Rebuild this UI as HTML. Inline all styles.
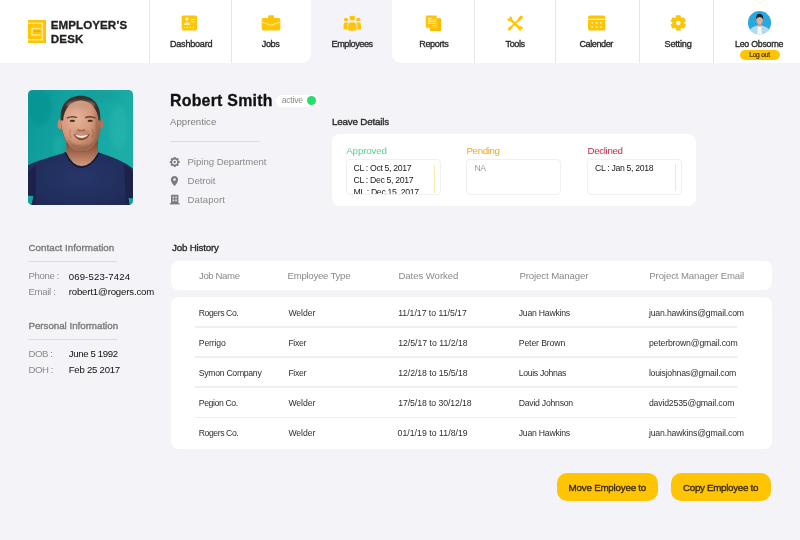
<!DOCTYPE html>
<html>
<head>
<meta charset="utf-8">
<title>Employer's Desk</title>
<style>
html,body{margin:0;padding:0;}
body{width:800px;height:540px;overflow:hidden;background:#f4f3f7;font-family:"Liberation Sans",sans-serif;position:relative;-webkit-font-smoothing:antialiased;}
#txt{position:absolute;left:0;top:0;width:800px;height:540px;will-change:transform;}
.abs{position:absolute;}
.t{position:absolute;white-space:pre;line-height:1;font-family:"Liberation Sans",sans-serif;}
.hdrL{left:0;top:0;width:311px;height:63px;background:#fff;border-bottom-right-radius:9px;}
.hdrR{left:392px;top:0;width:408px;height:63px;background:#fff;border-bottom-left-radius:9px;}
.tabact{left:311px;top:0;width:81px;height:63px;background:#f4f3f9;}
.vd{position:absolute;top:0;width:1px;height:63px;background:#e6e6e9;}
.card{position:absolute;background:#fff;border-radius:8px;}
.box{position:absolute;border:1px solid #f0f0f3;border-radius:4px;background:#fff;box-sizing:border-box;overflow:hidden;}
.hl{position:absolute;height:1px;background:#dcdce0;}
.sep{position:absolute;height:1.4px;background:#efeff3;left:194.5px;width:542px;}
.btn{position:absolute;background:#ffc505;border-radius:10px;}
.sb{position:absolute;width:1px;background:#f8eab0;}
</style>
</head>
<body>
<!-- header -->
<div class="abs tabact"></div>
<div class="abs hdrL"></div>
<div class="abs hdrR"></div>
<div class="vd" style="left:149px"></div>
<div class="vd" style="left:230.5px"></div>
<div class="vd" style="left:473.7px"></div>
<div class="vd" style="left:555px"></div>
<div class="vd" style="left:638.7px"></div>
<div class="vd" style="left:713px"></div>

<!-- logo -->
<svg class="abs" style="left:28px;top:20px" width="18.2" height="23" viewBox="0 0 18.2 23">
<rect x="0" y="0" width="18.2" height="23" fill="#ffc505"/>
</svg>

<svg class="abs" style="left:0;top:0" width="800" height="64" viewBox="0 0 800 64">
<g fill="#fec406">
<!-- dashboard -->
<rect x="181.6" y="15.4" width="15.4" height="15" rx="1.6"/>
<g fill="#fff3b5">
<circle cx="186.9" cy="18.9" r="1.75"/>
<path d="M183.9 25.1 Q183.9 22.2 187 22.2 Q190.2 22.2 190.2 25.1 Z"/>
<rect x="191.3" y="18.9" width="3.6" height="1"/>
<rect x="191.3" y="21.4" width="3.6" height="1"/>
<circle cx="184.4" cy="27.4" r=".7"/><circle cx="187.4" cy="27.4" r=".7"/><circle cx="190.5" cy="27.4" r=".7"/><circle cx="193.5" cy="27.4" r=".7"/>
</g>
<!-- jobs -->
<path d="M268.1 18.2 V16.6 Q268.1 15.2 269.5 15.2 H272.7 Q274.1 15.2 274.1 16.6 V18.2 Z"/>
<rect x="261.7" y="17.9" width="18.6" height="12.5" rx="1.6"/>
<path d="M261.7 22 L271 25.3 L280.3 22" fill="none" stroke="#ffee8c" stroke-width="1"/>
<!-- employees -->
<rect x="344.1" y="17.9" width="3.9" height="3.4" rx="1"/>
<path d="M343.6 29.5 V24.6 Q343.6 22.6 345.6 22.6 H348.4 V29.5 Z"/>
<rect x="356.3" y="17.9" width="3.9" height="3.4" rx="1"/>
<path d="M361 29.5 V24.6 Q361 22.6 359 22.6 H356.2 V29.5 Z"/>
<rect x="349.3" y="15.4" width="6" height="5.4" rx="1.5" stroke="#f4f3f9" stroke-width=".8"/>
<path d="M347.8 31 V25.2 Q347.8 22 351 22 H353.6 Q356.9 22 356.9 25.2 V31 Z" stroke="#f4f3f9" stroke-width=".8"/>
<!-- reports -->
<rect x="429.8" y="18.2" width="11.4" height="12.7" rx="1" fill="#f6bd06"/>
<rect x="425.8" y="15.4" width="11" height="12.5" rx="1" stroke="#ffe36b" stroke-width=".5"/>
<g fill="#fff0a8">
<rect x="428" y="17.9" width="3.4" height=".9"/>
<rect x="428" y="19.6" width="7.4" height=".9"/>
<rect x="428" y="21.3" width="7.4" height=".9"/>
<rect x="428" y="23" width="7.4" height=".9"/>
<rect x="432.4" y="25.1" width="3" height=".9"/>
</g>
<!-- tools -->
<g transform="translate(515 23.3) scale(.9) translate(-515 -23.3)">
<g stroke="#fec406" stroke-linecap="round" fill="none">
<path d="M510 19.2 L520.6 29.2" stroke-width="2.7"/>
<path d="M509.2 29 L520 18.8" stroke-width="2.1"/>
<path d="M519.9 18.6 L522 16.6" stroke-width="3.6"/>
<path d="M508.5 29.9 L510.1 28.3" stroke-width="3"/>
</g>
<circle cx="509.3" cy="18.4" r="2.7"/>
<circle cx="521.2" cy="29.1" r="2.6"/>
<circle cx="507.7" cy="16.7" r="1.45" fill="#fff"/>
<circle cx="522.8" cy="30.7" r="1.4" fill="#fff"/>
</g>
<!-- calendar -->
<path d="M588 17 Q588 15.4 589.6 15.4 H603.6 Q605.2 15.4 605.2 17 V18.7 H588 Z"/>
<path d="M588 19.8 H605.2 V28.8 Q605.2 30.4 603.6 30.4 H589.6 Q588 30.4 588 28.8 Z"/>
<g fill="#fff3b5">
<circle cx="592.3" cy="22.9" r=".95"/><circle cx="596.6" cy="22.9" r=".95"/><circle cx="600.7" cy="22.9" r=".95"/>
<circle cx="592.3" cy="27.1" r=".95"/><circle cx="596.6" cy="27.1" r=".95"/><circle cx="600.7" cy="27.1" r=".95"/>
</g>
<!-- setting gear -->
<g transform="translate(678.3 22.9)">
<circle r="5.9"/>
<g id="tooth"><rect x="-2.5" y="-7.7" width="5" height="4.4" rx=".9"/></g>
<use href="#tooth" transform="rotate(60)"/><use href="#tooth" transform="rotate(120)"/><use href="#tooth" transform="rotate(180)"/><use href="#tooth" transform="rotate(240)"/><use href="#tooth" transform="rotate(300)"/>
<circle r="2.25" fill="#fff"/>
</g>
</g>
<!-- logo marks -->
<g fill="none" stroke="#ffe88a" stroke-width="1.5">
<path d="M28 23.2 H42.3 V39.8 H28"/>
<path d="M40.6 28.5 H32 V34.9 H40.6"/>
</g>
<path d="M33.8 31.2 H40.6" stroke="#e9aa00" stroke-width="1.3" fill="none"/>
<!-- avatar -->
<defs><clipPath id="avc"><circle cx="759.5" cy="22.7" r="11.6"/></clipPath>
<filter id="b1" x="-20%" y="-20%" width="140%" height="140%"><feGaussianBlur stdDeviation=".45"/></filter></defs>
<g clip-path="url(#avc)">
<rect x="747" y="10" width="26" height="26" fill="#2aa7df"/>
<g filter="url(#b1)">
<path d="M748 36 Q748.6 27.8 755 26.2 L759.5 24.8 L764 26.2 Q770.4 27.8 771.4 36 Z" fill="#b7d9ed"/>
<path d="M757.8 25.8 L761.2 25.8 L762 36 L757.2 36 Z" fill="#f4f8fb"/>
<rect x="757.9" y="22" width="3.4" height="4.4" fill="#d3a084"/>
<ellipse cx="759.6" cy="20" rx="3.15" ry="3.9" fill="#e2b295"/>
<path d="M756.2 19.4 Q755.6 13.6 759.7 13.7 Q763.8 13.8 763 19.4 Q762.4 16.9 759.7 16.9 Q757 16.9 756.2 19.4 Z" fill="#23262c"/>
</g>
</g>
</svg>
<!-- small gray icons -->
<svg class="abs" style="left:166px;top:154px" width="18" height="54" viewBox="166 154 18 54">
<g fill="#7c7c7c">
<g transform="translate(174.7 162)">
<circle r="3.9"/>
<g id="gt"><rect x="-1.1" y="-5" width="2.2" height="2" rx=".4"/></g>
<use href="#gt" transform="rotate(45)"/><use href="#gt" transform="rotate(90)"/><use href="#gt" transform="rotate(135)"/><use href="#gt" transform="rotate(180)"/><use href="#gt" transform="rotate(225)"/><use href="#gt" transform="rotate(270)"/><use href="#gt" transform="rotate(315)"/>
<circle r="2.5" fill="#f4f3f7"/>
<circle r="1.2"/>
</g>
<path d="M174.5 176.1 C172.4 176.1 170.9 177.7 170.9 179.7 C170.9 182.4 174.5 186 174.5 186 C174.5 186 178.1 182.4 178.1 179.7 C178.1 177.7 176.6 176.1 174.5 176.1 Z"/>
<circle cx="174.5" cy="179.6" r="1.25" fill="#f4f3f7"/>
<rect x="171" y="194.8" width="7.4" height="9.2" rx=".6"/>
<rect x="169.8" y="203.2" width="9.8" height="1.2"/>
<g fill="#d9d9de"><rect x="172.5" y="196.5" width="1.7" height="1.8"/><rect x="175.2" y="196.5" width="1.7" height="1.8"/><rect x="172.5" y="199.5" width="1.7" height="1.8"/><rect x="175.2" y="199.5" width="1.7" height="1.8"/></g>
</g>
</svg>


<!-- logout pill -->
<div class="abs" style="left:740px;top:50px;width:39.5px;height:10px;border-radius:5px;background:#ffc505"></div>

<svg class="abs" style="left:28px;top:90.4px;border-radius:4.5px" width="105" height="114.6" viewBox="28 90.4 105 114.6">
<defs>
<linearGradient id="bgG" x1="0" y1="0" x2="1" y2="0.35">
<stop offset="0" stop-color="#0c9896"/><stop offset=".45" stop-color="#14a4a0"/><stop offset="1" stop-color="#1cada8"/>
</linearGradient>
<radialGradient id="faceG" cx=".40" cy=".40" r=".66">
<stop offset="0" stop-color="#e6b39a"/><stop offset=".55" stop-color="#d69a7e"/><stop offset="1" stop-color="#ab7054"/>
</radialGradient>
<linearGradient id="neckG" x1="0" y1="0" x2="0" y2="1">
<stop offset="0" stop-color="#6f402d"/><stop offset=".5" stop-color="#a1654a"/><stop offset="1" stop-color="#d39c80"/>
</linearGradient>
<clipPath id="skinC"><rect x="55" y="121" width="52" height="40"/><ellipse cx="80.8" cy="121.5" rx="17.6" ry="20.6"/></clipPath>
<radialGradient id="shirtG" cx=".5" cy=".45" r=".6"><stop offset="0" stop-color="#27366a"/><stop offset="1" stop-color="#1f2b57"/></radialGradient>
<filter id="pb" x="-10%" y="-10%" width="120%" height="120%"><feGaussianBlur stdDeviation=".55"/></filter>
<filter id="pb2" x="-20%" y="-20%" width="140%" height="140%"><feGaussianBlur stdDeviation="2.2"/></filter>
<filter id="pb3" x="-20%" y="-20%" width="140%" height="140%"><feGaussianBlur stdDeviation=".55"/></filter>
<filter id="pb5" x="-20%" y="-20%" width="140%" height="140%"><feGaussianBlur stdDeviation=".8"/></filter>
<filter id="pb4" x="-20%" y="-20%" width="140%" height="140%"><feGaussianBlur stdDeviation="1.3"/></filter>
</defs>
<rect x="28" y="90.4" width="105" height="114.6" fill="url(#bgG)"/>
<g filter="url(#pb2)">
<ellipse cx="119" cy="128" rx="9" ry="22" fill="#2bb7b0" opacity=".5"/>
<ellipse cx="40" cy="108" rx="12" ry="18" fill="#0a8f8e" opacity=".45"/>
<ellipse cx="58" cy="146" rx="5" ry="10" fill="#2bb7b0" opacity=".35"/>
<ellipse cx="100" cy="97" rx="20" ry="5" fill="#0d9796" opacity=".5"/>
</g>
<g filter="url(#pb)">
<!-- shirt -->
<path d="M26 166.8 C38 160 52 157.5 66 152.6 H98 C112 157.5 124 161 135 170.6 V207 H26 Z" fill="url(#shirtG)"/>
<path d="M26 178 Q29 170 36 166 L36 207 H26 Z" fill="#1a2448"/>
<path d="M124 165 Q131 169 135 176 V207 H126 Z" fill="#1a2448"/>
<path d="M26 196 L33.5 196.5 L31 207 H26 Z" fill="#16a29f"/>
<path d="M135 199 L128.5 198.5 L130 207 H135 Z" fill="#16a29f"/>
<!-- neck -->
<path d="M66.3 138 V153 Q72 166.4 81.6 166.4 Q91 166.4 98 153.6 V138 Z" fill="url(#neckG)"/>
<path d="M65 152.6 Q72 167.6 81.6 167.6 Q91 167.6 99 153.2" fill="none" stroke="#141c37" stroke-width="1.5"/>
<!-- ears -->
<ellipse cx="60" cy="124.6" rx="2.3" ry="4.8" fill="#c88b6f"/>
<ellipse cx="101.4" cy="124.6" rx="2" ry="4.8" fill="#b0745a"/>
<!-- head: hair base then skin clipped -->
<path d="M80.6 96.2 C93 96.2 100.4 105 100.3 118 C100.2 125 99.8 130 98.8 135.5 C97.8 141 96 144.6 92.8 147.8 C89.6 150.9 85.5 152 81.8 152 C78 152 74 150.9 70.8 147.8 C67.6 144.6 65 141 63.6 135.5 C62 130 60.7 125 60.6 118 C60.5 105 68 96.2 80.6 96.2 Z" fill="#372e2a"/>
<g clip-path="url(#skinC)"><path d="M80.6 96.2 C93 96.2 100.4 105 100.3 118 C100.2 125 99.8 130 98.8 135.5 C97.8 141 96 144.6 92.8 147.8 C89.6 150.9 85.5 152 81.8 152 C78 152 74 150.9 70.8 147.8 C67.6 144.6 65 141 63.6 135.5 C62 130 60.7 125 60.6 118 C60.5 105 68 96.2 80.6 96.2 Z" fill="url(#faceG)"/></g>
</g>
<g filter="url(#pb5)">
<ellipse cx="80.8" cy="105.5" rx="14" ry="4.2" fill="#c99a82" opacity=".75" filter="url(#pb4)"/>
</g>
<g filter="url(#pb4)">
<!-- beard -->
<path d="M66 138 C68.5 146.5 74 152 81.8 152 C89.6 152 94.8 146.5 97 138 C94.4 143.2 89.4 146 81.8 146 C74.4 146 69 143.2 66 138 Z" fill="#8a5a42" opacity=".6"/>
<path d="M75 131.6 Q81.6 130 88.6 131.6 Q89.6 133.6 88.6 134.2 Q81.6 132.6 75 134.2 Q74 133.6 75 131.6Z" fill="#9a6148" opacity=".55"/>
<!-- right side shadow -->
<path d="M96 112 Q101 122 99 136 Q97 144 93 148 Q96 136 96 112 Z" fill="#8a553c" opacity=".5"/>
</g>
<g filter="url(#pb3)">
<path d="M66.8 118.6 Q71.6 116 77.2 118" stroke="#6b4a3a" stroke-width="1.4" fill="none"/>
<path d="M85.2 118 Q90.8 116 95.4 118.6" stroke="#5f4032" stroke-width="1.4" fill="none"/>
<ellipse cx="72.4" cy="121.3" rx="2.7" ry="1.05" fill="#463128"/>
<ellipse cx="90.2" cy="121.3" rx="2.7" ry="1.05" fill="#463128"/>
<path d="M77.4 130 Q81.2 131.8 85 130" stroke="#a0614a" stroke-width="1.2" fill="none"/>
<path d="M73.4 134.6 Q81.6 136.2 90 134.4 Q87 140.6 81.8 140.6 Q76.4 140.6 73.4 134.6 Z" fill="#8e4a3d"/>
<path d="M75 135.2 Q81.8 136.6 88.4 135 Q85.8 138.4 81.8 138.4 Q77.6 138.4 75 135.2 Z" fill="#f3e9e2"/>
<path d="M70.4 129.6 Q68.8 134 71 138.6" stroke="#b27759" stroke-width=".9" fill="none"/>
<path d="M92.6 129.6 Q94.2 134 92.2 138.6" stroke="#9c634a" stroke-width=".9" fill="none"/>
</g>
</svg>


<!-- active pill -->
<div class="abs" style="left:275.7px;top:94.5px;width:43px;height:12px;border-radius:6px;background:#fff"></div>
<div class="abs" style="left:306.7px;top:96px;width:9px;height:9px;border-radius:50%;background:#22e06b"></div>
<div class="hl" style="left:170px;top:140.5px;width:90px"></div>

<!-- leave details -->
<div class="card" style="left:332px;top:133.7px;width:364px;height:72px"></div>
<div class="box" style="left:346.2px;top:158.7px;width:95px;height:36px"></div>
<div class="box" style="left:466.4px;top:158.7px;width:95px;height:36px"></div>
<div class="box" style="left:587.4px;top:158.7px;width:95px;height:36px"></div>
<div class="sb" style="left:434.3px;top:164.5px;height:28px"></div>
<div class="sb" style="left:675px;top:164px;height:27px"></div>
<!-- clipped approved list -->
<div class="abs" style="left:347.2px;top:159.7px;width:85px;height:34px;overflow:hidden;will-change:transform">
<span class="t" style="left:6.6px;top:4.0px;font-size:8.7px;color:#222;letter-spacing:-0.33px">CL : Oct 5, 2017</span>
<span class="t" style="left:6.6px;top:16.2px;font-size:8.7px;color:#222;letter-spacing:-0.33px">CL : Dec 5, 2017</span>
<span class="t" style="left:6.6px;top:28.4px;font-size:8.7px;color:#222;letter-spacing:-0.33px">ML : Dec 15, 2017</span>

</div>

<!-- contact lines -->
<div class="hl" style="left:28.4px;top:260.6px;width:89px"></div>
<div class="hl" style="left:28.4px;top:338.6px;width:89px"></div>

<!-- job history -->
<div class="card" style="left:170.8px;top:261.3px;width:601.5px;height:28.6px"></div>
<div class="card" style="left:170.8px;top:297.4px;width:601.5px;height:152px"></div>
<div class="sep" style="top:326.3px"></div>
<div class="sep" style="top:356.3px"></div>
<div class="sep" style="top:386.3px"></div>
<div class="sep" style="top:416.8px"></div>

<!-- buttons -->
<div class="btn" style="left:557px;top:472.7px;width:100.6px;height:28.6px"></div>
<div class="btn" style="left:671px;top:472.7px;width:99.7px;height:28.6px"></div>

<div id="txt">
<span class="t" style="left:50.80px;top:19.20px;font-size:11.6px;font-weight:700;color:#222;letter-spacing:0.041px;-webkit-text-stroke:0.3px #222;">EMPLOYER’S</span>
<span class="t" style="left:50.80px;top:33.20px;font-size:11.6px;font-weight:700;color:#222;letter-spacing:0.160px;-webkit-text-stroke:0.3px #222;">DESK</span>
<span class="t" style="left:170.00px;top:40.20px;font-size:9.1px;font-weight:400;color:#2b2b2b;letter-spacing:-0.250px;-webkit-text-stroke:0.35px #2b2b2b;">Dashboard</span>
<span class="t" style="left:261.87px;top:40.20px;font-size:9.1px;font-weight:400;color:#2b2b2b;letter-spacing:-0.420px;-webkit-text-stroke:0.35px #2b2b2b;">Jobs</span>
<span class="t" style="left:331.53px;top:40.20px;font-size:9.1px;font-weight:400;color:#2b2b2b;letter-spacing:-0.420px;-webkit-text-stroke:0.35px #2b2b2b;">Employees</span>
<span class="t" style="left:419.25px;top:40.20px;font-size:9.1px;font-weight:400;color:#2b2b2b;letter-spacing:-0.391px;-webkit-text-stroke:0.35px #2b2b2b;">Reports</span>
<span class="t" style="left:505.60px;top:40.20px;font-size:9.1px;font-weight:400;color:#2b2b2b;letter-spacing:-0.420px;-webkit-text-stroke:0.35px #2b2b2b;">Tools</span>
<span class="t" style="left:579.39px;top:40.20px;font-size:9.1px;font-weight:400;color:#2b2b2b;letter-spacing:-0.420px;-webkit-text-stroke:0.35px #2b2b2b;">Calender</span>
<span class="t" style="left:664.50px;top:40.20px;font-size:9.1px;font-weight:400;color:#2b2b2b;letter-spacing:-0.177px;-webkit-text-stroke:0.35px #2b2b2b;">Setting</span>
<span class="t" style="left:735.00px;top:40.20px;font-size:8.75px;font-weight:400;color:#2b2b2b;letter-spacing:-0.219px;-webkit-text-stroke:0.35px #2b2b2b;">Leo Obsorne</span>
<span class="t" style="left:749.20px;top:52.20px;font-size:6.6px;font-weight:400;color:#3a2c05;letter-spacing:-0.200px;-webkit-text-stroke:0.2px #3a2c05;">Log out</span>
<span class="t" style="left:170.00px;top:93.20px;font-size:15.9px;font-weight:700;color:#111;letter-spacing:0.239px;-webkit-text-stroke:0.3px #111;">Robert Smith</span>
<span class="t" style="left:281.75px;top:96.20px;font-size:8.6px;font-weight:400;color:#8a8a8a;letter-spacing:-0.241px;">active</span>
<span class="t" style="left:170.00px;top:117.20px;font-size:9.6px;font-weight:400;color:#7d7d7d;letter-spacing:0.042px;">Apprentice</span>
<span class="t" style="left:187.50px;top:157.20px;font-size:9.6px;font-weight:400;color:#8a8a8a;letter-spacing:-0.029px;">Piping Department</span>
<span class="t" style="left:187.50px;top:176.20px;font-size:9.6px;font-weight:400;color:#8a8a8a;letter-spacing:-0.044px;">Detroit</span>
<span class="t" style="left:187.50px;top:195.20px;font-size:9.6px;font-weight:400;color:#8a8a8a;letter-spacing:0.100px;">Dataport</span>
<span class="t" style="left:332.00px;top:117.20px;font-size:9.8px;font-weight:400;color:#2b2b2b;letter-spacing:-0.177px;-webkit-text-stroke:0.35px #2b2b2b;">Leave Details</span>
<span class="t" style="left:346.25px;top:146.20px;font-size:9.8px;font-weight:400;color:#5fd08f;letter-spacing:-0.172px;">Approved</span>
<span class="t" style="left:466.50px;top:146.20px;font-size:9.8px;font-weight:400;color:#f5a623;letter-spacing:-0.411px;">Pending</span>
<span class="t" style="left:587.50px;top:146.20px;font-size:9.8px;font-weight:400;color:#d1284a;letter-spacing:-0.375px;">Declined</span>
<span class="t" style="left:474.50px;top:164.20px;font-size:8.59px;font-weight:400;color:#9a9a9a;letter-spacing:-0.420px;">NA</span>
<span class="t" style="left:595.00px;top:164.20px;font-size:8.7px;font-weight:400;color:#222;letter-spacing:-0.329px;">CL : Jan 5, 2018</span>
<span class="t" style="left:28.40px;top:243.20px;font-size:9.8px;font-weight:400;color:#7a7a7a;letter-spacing:0.022px;-webkit-text-stroke:0.35px #7a7a7a;">Contact Information</span>
<span class="t" style="left:28.40px;top:271.20px;font-size:9.6px;font-weight:400;color:#8a8a8a;letter-spacing:-0.330px;">Phone :</span>
<span class="t" style="left:68.70px;top:272.20px;font-size:9.6px;font-weight:400;color:#111;letter-spacing:0.141px;">069-523-7424</span>
<span class="t" style="left:28.40px;top:287.20px;font-size:9.6px;font-weight:400;color:#8a8a8a;letter-spacing:-0.288px;">Email :</span>
<span class="t" style="left:68.70px;top:287.20px;font-size:9.6px;font-weight:400;color:#111;letter-spacing:-0.149px;">robert1@rogers.com</span>
<span class="t" style="left:28.40px;top:321.20px;font-size:9.8px;font-weight:400;color:#7a7a7a;letter-spacing:-0.037px;-webkit-text-stroke:0.35px #7a7a7a;">Personal Information</span>
<span class="t" style="left:28.40px;top:349.20px;font-size:9.6px;font-weight:400;color:#8a8a8a;letter-spacing:-0.381px;">DOB :</span>
<span class="t" style="left:68.70px;top:349.20px;font-size:9.6px;font-weight:400;color:#111;letter-spacing:-0.341px;">June 5 1992</span>
<span class="t" style="left:28.40px;top:365.20px;font-size:9.6px;font-weight:400;color:#8a8a8a;letter-spacing:-0.389px;">DOH :</span>
<span class="t" style="left:68.70px;top:365.20px;font-size:9.6px;font-weight:400;color:#111;letter-spacing:-0.239px;">Feb 25 2017</span>
<span class="t" style="left:172.00px;top:243.20px;font-size:9.8px;font-weight:400;color:#2b2b2b;letter-spacing:-0.200px;-webkit-text-stroke:0.35px #2b2b2b;">Job History</span>
<span class="t" style="left:199.00px;top:271.20px;font-size:9.6px;font-weight:400;color:#8a8a8a;letter-spacing:-0.391px;">Job Name</span>
<span class="t" style="left:287.50px;top:271.20px;font-size:9.6px;font-weight:400;color:#8a8a8a;letter-spacing:-0.246px;">Employee Type</span>
<span class="t" style="left:398.40px;top:271.20px;font-size:9.6px;font-weight:400;color:#8a8a8a;letter-spacing:-0.055px;">Dates Worked</span>
<span class="t" style="left:519.40px;top:271.20px;font-size:9.6px;font-weight:400;color:#8a8a8a;letter-spacing:-0.092px;">Project Manager</span>
<span class="t" style="left:649.25px;top:271.20px;font-size:9.6px;font-weight:400;color:#8a8a8a;letter-spacing:-0.102px;">Project Manager Email</span>
<span class="t" style="left:198.75px;top:309.20px;font-size:8.67px;font-weight:400;color:#2e2e2e;letter-spacing:-0.420px;">Rogers Co.</span>
<span class="t" style="left:288.40px;top:309.20px;font-size:8.7px;font-weight:400;color:#2e2e2e;letter-spacing:-0.075px;">Welder</span>
<span class="t" style="left:398.20px;top:309.20px;font-size:8.7px;font-weight:400;color:#2e2e2e;letter-spacing:-0.010px;">11/1/17 to 11/5/17</span>
<span class="t" style="left:518.75px;top:309.20px;font-size:8.7px;font-weight:400;color:#2e2e2e;letter-spacing:-0.245px;">Juan Hawkins</span>
<span class="t" style="left:648.90px;top:309.20px;font-size:8.7px;font-weight:400;color:#2e2e2e;letter-spacing:-0.164px;">juan.hawkins@gmail.com</span>
<span class="t" style="left:198.75px;top:339.20px;font-size:8.7px;font-weight:400;color:#2e2e2e;letter-spacing:-0.169px;">Perrigo</span>
<span class="t" style="left:288.40px;top:339.20px;font-size:8.7px;font-weight:400;color:#2e2e2e;letter-spacing:-0.328px;">Fixer</span>
<span class="t" style="left:398.20px;top:339.20px;font-size:8.7px;font-weight:400;color:#2e2e2e;letter-spacing:-0.000px;">12/5/17 to 11/2/18</span>
<span class="t" style="left:518.75px;top:339.20px;font-size:8.7px;font-weight:400;color:#2e2e2e;letter-spacing:-0.131px;">Peter Brown</span>
<span class="t" style="left:648.90px;top:339.20px;font-size:8.7px;font-weight:400;color:#2e2e2e;letter-spacing:-0.157px;">peterbrown@gmail.com</span>
<span class="t" style="left:198.75px;top:369.20px;font-size:8.7px;font-weight:400;color:#2e2e2e;letter-spacing:-0.303px;">Symon Company</span>
<span class="t" style="left:288.40px;top:369.20px;font-size:8.7px;font-weight:400;color:#2e2e2e;letter-spacing:-0.328px;">Fixer</span>
<span class="t" style="left:398.20px;top:369.20px;font-size:8.7px;font-weight:400;color:#2e2e2e;letter-spacing:-0.038px;">12/2/18 to 15/5/18</span>
<span class="t" style="left:518.75px;top:369.20px;font-size:8.7px;font-weight:400;color:#2e2e2e;letter-spacing:-0.328px;">Louis Johnas</span>
<span class="t" style="left:648.90px;top:369.20px;font-size:8.7px;font-weight:400;color:#2e2e2e;letter-spacing:-0.224px;">louisjohnas@gmail.com</span>
<span class="t" style="left:198.75px;top:399.20px;font-size:8.7px;font-weight:400;color:#2e2e2e;letter-spacing:-0.398px;">Pegion Co.</span>
<span class="t" style="left:288.40px;top:399.20px;font-size:8.7px;font-weight:400;color:#2e2e2e;letter-spacing:-0.075px;">Welder</span>
<span class="t" style="left:398.20px;top:399.20px;font-size:8.7px;font-weight:400;color:#2e2e2e;letter-spacing:-0.076px;">17/5/18 to 30/12/18</span>
<span class="t" style="left:518.75px;top:399.20px;font-size:8.7px;font-weight:400;color:#2e2e2e;letter-spacing:-0.257px;">David Johnson</span>
<span class="t" style="left:648.90px;top:399.20px;font-size:8.7px;font-weight:400;color:#2e2e2e;letter-spacing:-0.167px;">david2535@gmail.com</span>
<span class="t" style="left:198.75px;top:429.20px;font-size:8.67px;font-weight:400;color:#2e2e2e;letter-spacing:-0.420px;">Rogers Co.</span>
<span class="t" style="left:288.40px;top:429.20px;font-size:8.7px;font-weight:400;color:#2e2e2e;letter-spacing:-0.075px;">Welder</span>
<span class="t" style="left:397.50px;top:429.20px;font-size:8.7px;font-weight:400;color:#2e2e2e;letter-spacing:0.047px;">01/1/19 to 11/8/19</span>
<span class="t" style="left:518.75px;top:429.20px;font-size:8.7px;font-weight:400;color:#2e2e2e;letter-spacing:-0.245px;">Juan Hawkins</span>
<span class="t" style="left:648.90px;top:429.20px;font-size:8.7px;font-weight:400;color:#2e2e2e;letter-spacing:-0.164px;">juan.hawkins@gmail.com</span>
<span class="t" style="left:568.60px;top:483.20px;font-size:9.8px;font-weight:400;color:#3a2c05;letter-spacing:-0.229px;-webkit-text-stroke:0.35px #3a2c05;">Move Employee to</span>
<span class="t" style="left:683.00px;top:483.20px;font-size:9.8px;font-weight:400;color:#3a2c05;letter-spacing:-0.311px;-webkit-text-stroke:0.35px #3a2c05;">Copy Employee to</span>
</div>
</body>
</html>
